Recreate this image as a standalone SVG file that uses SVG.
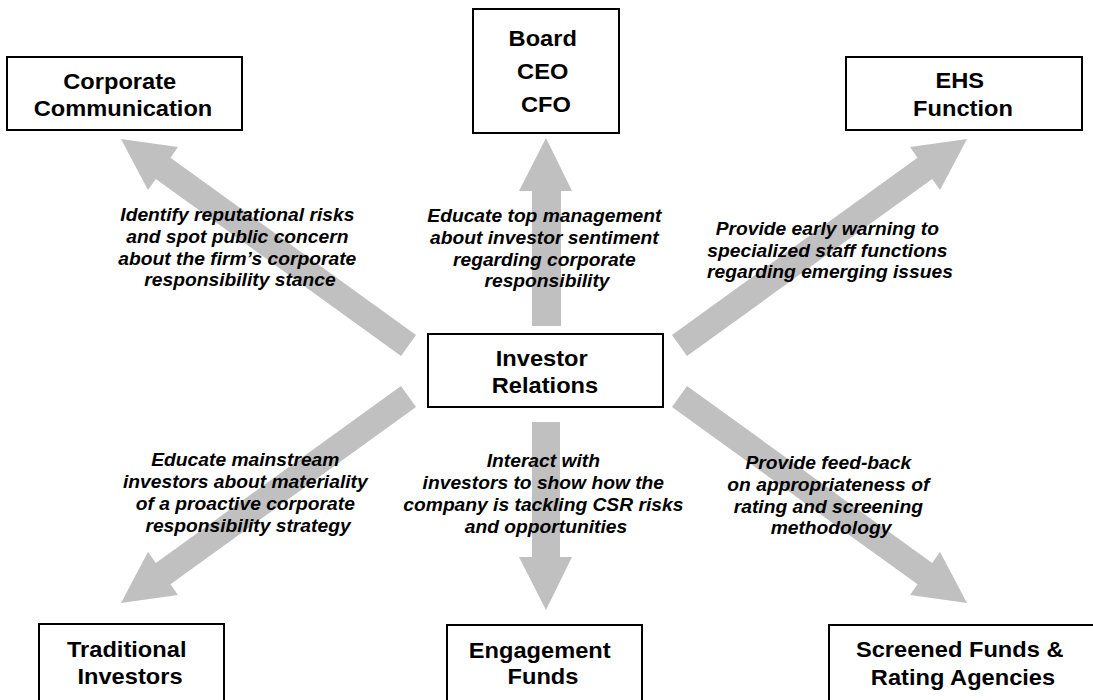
<svg xmlns="http://www.w3.org/2000/svg" width="1093" height="700" viewBox="0 0 1093 700">
  <style>
    .box { fill: #ffffff; stroke: #000000; stroke-width: 2; }
    .arrow { fill: #c0c0c0; stroke: none; }
    .title { font-family: "Liberation Sans", Arial, sans-serif; font-weight: bold; font-size: 22px; fill: #000000; text-anchor: middle; }
    .label { font-family: "Liberation Sans", Arial, sans-serif; font-weight: bold; font-style: italic; font-size: 17.5px; fill: #000000; text-anchor: middle; }
  </style>
  <rect width="1093" height="700" fill="#ffffff"/>

  <!-- broad grey arrows radiating from Investor Relations -->
  <g id="connectors">
    <polygon class="arrow" points="532,326 561,326 561,191 572,191 546,138 519,191 532,191"/>
    <polygon class="arrow" points="532,422 560,422 560,557 572,557 546,610 519,557 532,557"/>
    <polygon class="arrow" points="672,335 917.5,157.7 910,147 967,139 940,190 932.2,178.9 687,356"/>
    <polygon class="arrow" points="416,335 170.5,157.7 178,147 121,139 148,190 155.8,178.9 401,356"/>
    <polygon class="arrow" points="672,407 917.5,584.3 910,595 967,603 940,552 932.2,563.1 687,386"/>
    <polygon class="arrow" points="416,407 170.5,584.3 178,595 121,603 148,552 155.8,563.1 401,386"/>
  </g>

  <!-- role descriptions along the arrows -->
  <g id="labels">
    <text class="label" transform="translate(240 0) scale(1.1 1)">
      <tspan x="0" y="221">Identify reputational risks</tspan>
      <tspan x="0" y="243">and spot public concern</tspan>
      <tspan x="0" y="265">about the firm’s corporate</tspan>
      <tspan x="0" y="286">responsibility stance</tspan>
    </text>
    <text class="label" transform="translate(547 0) scale(1.1 1)">
      <tspan x="0" y="222">Educate top management</tspan>
      <tspan x="0" y="244">about investor sentiment</tspan>
      <tspan x="0" y="266">regarding corporate</tspan>
      <tspan x="0" y="287">responsibility</tspan>
    </text>
    <text class="label" transform="translate(830 0) scale(1.1 1)">
      <tspan x="0" y="235">Provide early warning to</tspan>
      <tspan x="0" y="257">specialized staff functions</tspan>
      <tspan x="0" y="278">regarding emerging issues</tspan>
    </text>
    <text class="label" transform="translate(248 0) scale(1.1 1)">
      <tspan x="0" y="466">Educate mainstream</tspan>
      <tspan x="0" y="488">investors about materiality</tspan>
      <tspan x="0" y="510">of a proactive corporate</tspan>
      <tspan x="0" y="532">responsibility strategy</tspan>
    </text>
    <text class="label" transform="translate(546 0) scale(1.1 1)">
      <tspan x="0" y="467">Interact with</tspan>
      <tspan x="0" y="489">investors to show how the</tspan>
      <tspan x="0" y="511">company is tackling CSR risks</tspan>
      <tspan x="0" y="533">and opportunities</tspan>
    </text>
    <text class="label" transform="translate(831 0) scale(1.1 1)">
      <tspan x="0" y="469">Provide feed-back</tspan>
      <tspan x="0" y="491">on appropriateness of</tspan>
      <tspan x="0" y="513">rating and screening</tspan>
      <tspan x="0" y="534">methodology</tspan>
    </text>
  </g>

  <g id="corporate-communication">
    <rect class="box" x="7" y="57" width="235" height="73"/>
    <text class="title" transform="translate(123 0) scale(1.075 1)">
      <tspan x="0" y="89">Corporate</tspan>
      <tspan x="0" y="116">Communication</tspan>
    </text>
  </g>

  <g id="board">
    <rect class="box" x="473" y="9" width="146" height="124"/>
    <text class="title" transform="translate(546 0) scale(1.075 1)">
      <tspan x="0" y="46">Board</tspan>
      <tspan x="0" y="79">CEO</tspan>
      <tspan x="0" y="112">CFO</tspan>
    </text>
  </g>

  <g id="ehs-function">
    <rect class="box" x="846" y="57" width="236" height="73"/>
    <text class="title" transform="translate(963 0) scale(1.075 1)">
      <tspan x="0" y="88">EHS</tspan>
      <tspan x="0" y="116">Function</tspan>
    </text>
  </g>

  <g id="investor-relations">
    <rect class="box" x="428" y="334" width="235" height="73"/>
    <text class="title" transform="translate(545 0) scale(1.075 1)">
      <tspan x="0" y="366">Investor</tspan>
      <tspan x="0" y="393">Relations</tspan>
    </text>
  </g>

  <g id="traditional-investors">
    <rect class="box" x="39" y="624" width="185" height="90"/>
    <text class="title" transform="translate(130 0) scale(1.075 1)">
      <tspan x="0" y="657">Traditional</tspan>
      <tspan x="0" y="684">Investors</tspan>
    </text>
  </g>

  <g id="engagement-funds">
    <rect class="box" x="447" y="625" width="195" height="90"/>
    <text class="title" transform="translate(543 0) scale(1.075 1)">
      <tspan x="0" y="658">Engagement</tspan>
      <tspan x="0" y="684">Funds</tspan>
    </text>
  </g>

  <g id="screened-funds">
    <rect class="box" x="829" y="625" width="268" height="90"/>
    <text class="title" transform="translate(963 0) scale(1.075 1)">
      <tspan x="0" y="657">Screened Funds &amp;</tspan>
      <tspan x="0" y="685">Rating Agencies</tspan>
    </text>
  </g>
</svg>
